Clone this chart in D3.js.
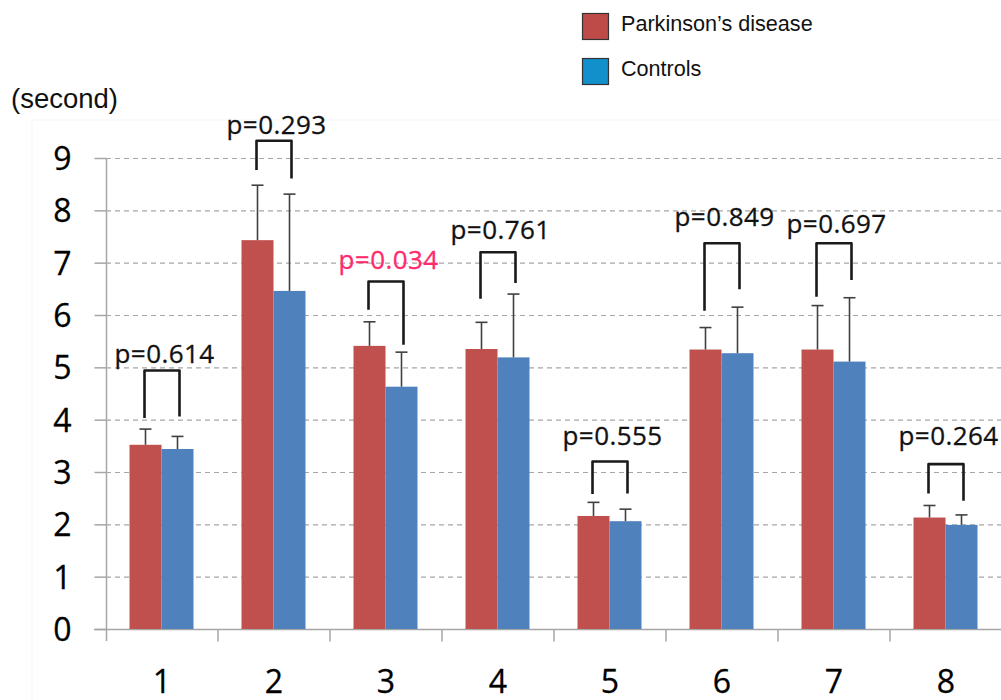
<!DOCTYPE html>
<html>
<head>
<meta charset="utf-8">
<script src="https://cdn.jsdelivr.net/npm/d3@7"></script>
<style>
  html, body { margin: 0; padding: 0; background: #fff; }
  svg { display: block; }
</style>
</head>
<body>
<svg id="chart" width="1001" height="700"></svg>
<script>
// ---- data ----
const categories = ["1", "2", "3", "4", "5", "6", "7", "8"];
const seriesNames = ["Parkinson\u2019s disease", "Controls"];
const pdMean   = [3.52, 7.43, 5.41, 5.35, 2.16, 5.34, 5.34, 2.13];
const pdSD     = [0.30, 1.05, 0.46, 0.51, 0.26, 0.42, 0.84, 0.23];
const ctrlMean = [3.44, 6.46, 4.63, 5.19, 2.06, 5.27, 5.11, 1.99];
const ctrlSD   = [0.24, 1.85, 0.66, 1.21, 0.23, 0.88, 1.22, 0.19];
const pValues  = ["0.614", "0.293", "0.034", "0.761", "0.555", "0.849", "0.697", "0.264"];
// significance bracket annotation heights (in seconds)
const bracketTop   = [4.94, 9.33, 6.64, 7.20, 3.20, 7.37, 7.37, 3.15];
const bracketLeft  = [4.03, 8.77, 6.10, 6.31, 2.58, 6.08, 6.35, 2.59];
const bracketRight = [4.06, 8.61, 5.43, 6.61, 2.59, 6.49, 6.67, 2.45];
const labelLevel   = [5.08, 9.46, 6.87, 7.45, 3.51, 7.71, 7.57, 3.52];
const yTicks = [0, 1, 2, 3, 4, 5, 6, 7, 8, 9];
const yUnit = "(second)";

// ---- layout ----
const svg = d3.select("#chart");
const x0 = d3.scaleBand().domain(categories).range([106, 1002])
  .paddingInner(48 / 112).paddingOuter(24 / 112);
const x1 = d3.scaleBand().domain(seriesNames).range([0, x0.bandwidth()]);
const y = d3.scaleLinear().domain([0, 9]).range([629, 158]);
const barColors = ["#C0504D", "#4F81BD"];
const legendColors = ["#BE4B48", "#1190CC"];
const numFont = "'Open Sans', sans-serif";

// faint chart area border
svg.append("rect").attr("x", 32).attr("y", 120).attr("width", 980).attr("height", 600)
  .attr("fill", "none").attr("stroke", "#f6f6f6").attr("stroke-width", 1);

// gridlines
svg.append("g").selectAll("line").data(yTicks.filter(d => d > 0)).join("line")
  .attr("x1", 106).attr("x2", 1001)
  .attr("y1", d => y(d) + 0.5).attr("y2", d => y(d) + 0.5)
  .attr("stroke", "#a6a6a6").attr("stroke-width", 1.2).attr("stroke-dasharray", "5,4");

// y axis
const yAxis = d3.axisLeft(y).tickValues(yTicks).tickSize(12).tickPadding(23);
const gy = svg.append("g").attr("transform", "translate(106.5,0)").call(yAxis);
gy.select(".domain").attr("d", `M0,${y(9)}V641`).attr("stroke", "#a6a6a6").attr("stroke-width", 1.5);
gy.selectAll(".tick line").attr("stroke", "#a6a6a6").attr("stroke-width", 1.5);
gy.selectAll(".tick text").attr("font-family", numFont)
  .attr("font-size", 32).attr("fill", "#000").attr("stroke", "#000").attr("stroke-width", 0.3)
  .attr("dy", "0.36em");

// x axis
const gx = svg.append("g").attr("transform", `translate(0,${y(0) + 0.5})`);
gx.append("line").attr("x1", 94).attr("x2", 1001).attr("y1", 0).attr("y2", 0)
  .attr("stroke", "#a6a6a6").attr("stroke-width", 1.5);
gx.selectAll("line.sep").data(categories.slice(1)).join("line").attr("class", "sep")
  .attr("x1", d => x0(d) - x0.step() * 24 / 112).attr("x2", d => x0(d) - x0.step() * 24 / 112)
  .attr("y1", 0).attr("y2", 12).attr("stroke", "#a6a6a6").attr("stroke-width", 1.5);
gx.selectAll("text").data(categories).join("text")
  .attr("x", d => x0(d) + x0.bandwidth() / 2).attr("y", 63)
  .attr("text-anchor", "middle").attr("font-family", numFont)
  .attr("font-size", 32).attr("fill", "#000").attr("stroke", "#000").attr("stroke-width", 0.3)
  .text(d => d);

// bars
const rows = categories.map((c, i) => ({
  c, i,
  vals: [
    { s: seriesNames[0], m: pdMean[i], e: pdSD[i], k: 0 },
    { s: seriesNames[1], m: ctrlMean[i], e: ctrlSD[i], k: 1 }
  ]
}));
const groups = svg.append("g").selectAll("g").data(rows).join("g")
  .attr("transform", d => `translate(${x0(d.c) - 0.5},0)`);
groups.selectAll("rect").data(d => d.vals).join("rect")
  .attr("x", d => x1(d.s)).attr("width", x1.bandwidth())
  .attr("y", d => y(d.m)).attr("height", d => y(0) - y(d.m))
  .attr("fill", d => barColors[d.k]);

// error bars (upper only)
const eb = groups.selectAll("g.err").data(d => d.vals).join("g").attr("class", "err")
  .attr("stroke", "#404040").attr("stroke-width", 1.6);
eb.append("line")
  .attr("x1", d => x1(d.s) + x1.bandwidth() / 2).attr("x2", d => x1(d.s) + x1.bandwidth() / 2)
  .attr("y1", d => y(d.m)).attr("y2", d => y(d.m + d.e));
eb.append("line")
  .attr("x1", d => x1(d.s) + x1.bandwidth() / 2 - 6).attr("x2", d => x1(d.s) + x1.bandwidth() / 2 + 6)
  .attr("y1", d => y(d.m + d.e)).attr("y2", d => y(d.m + d.e));

// significance brackets
groups.append("path")
  .attr("d", d => {
    const xl = x1(seriesNames[0]) + x1.bandwidth() / 2 - 1;
    const xr = x1(seriesNames[1]) + x1.bandwidth() / 2 + 2;
    return `M${xl},${y(bracketLeft[d.i])}V${y(bracketTop[d.i])}H${xr}V${y(bracketRight[d.i])}`;
  })
  .attr("fill", "none").attr("stroke", "#1a1a1a").attr("stroke-width", 2.6)
  .attr("stroke-linejoin", "round");

// p-value labels
groups.append("text")
  .attr("x", x0.bandwidth() / 2 + 3)
  .attr("y", d => y(labelLevel[d.i]))
  .attr("text-anchor", "middle")
  .attr("font-family", numFont).attr("font-size", 26)
  .attr("letter-spacing", "0.4px")
  .attr("fill", d => (+pValues[d.i] < 0.05 ? "#FF2A6D" : "#111"))
  .attr("stroke", d => (+pValues[d.i] < 0.05 ? "#FF2A6D" : "#111"))
  .attr("stroke-width", 0.3)
  .text(d => "p=" + pValues[d.i]);

// unit label
svg.append("text").attr("x", 11).attr("y", 108)
  .attr("font-family", "'Liberation Sans', Arial, sans-serif").attr("font-size", 27.5)
  .attr("fill", "#111").text(yUnit);

// legend
const leg = svg.append("g").selectAll("g").data(seriesNames).join("g")
  .attr("transform", (d, i) => `translate(582,${13 + i * 45})`);
leg.append("rect").attr("x", 0.5).attr("y", 0.5).attr("width", 26).attr("height", 26)
  .attr("fill", (d, i) => legendColors[i]).attr("stroke", "#333").attr("stroke-width", 1.2);
leg.append("text").attr("x", 39).attr("y", 18)
  .attr("font-family", "'Liberation Sans', Arial, sans-serif").attr("font-size", 21.6)
  .attr("fill", "#111").text(d => d);
</script>
</body>
</html>
